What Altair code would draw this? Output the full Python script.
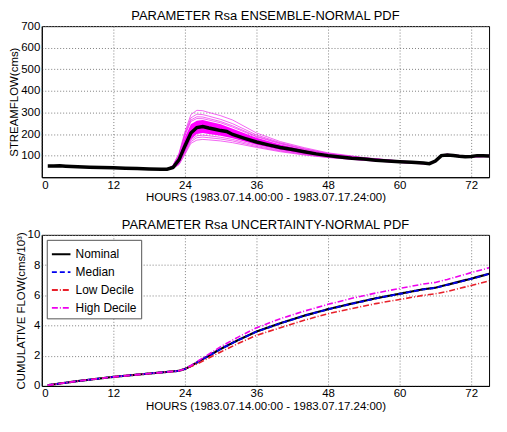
import altair as alt
import pandas as pd

FONT = "Liberation Sans"

# ---------------- Top panel data ----------------
hours_nom = [1, 2, 3, 4, 6, 8, 10, 12, 14, 16, 18, 20, 21, 22, 23, 24, 25, 26, 27, 28, 29, 30,
             31, 32, 34, 36, 38, 40, 42, 44, 46, 48, 50, 52, 54, 56, 58, 60, 62, 64, 65, 66,
             67, 68, 69, 70, 71, 72, 73, 74, 75]
flow_nom = [52, 52, 53, 51, 48, 46, 45, 44, 42, 40, 38, 37, 37, 45, 80, 145, 205, 230, 235, 228, 222, 216,
            212, 198, 180, 163, 150, 138, 128, 118, 108, 100, 94, 88, 84, 79, 75, 72, 69, 66, 63, 75,
            100, 103, 101, 97, 95, 96, 100, 99, 98]

env_hours = [21, 22, 23, 24, 25, 26, 27, 28, 30, 32, 36, 40, 44, 48, 54, 60, 65, 66, 67, 68, 70, 72, 75]
band_hi = [38, 52, 100, 185, 245, 262, 265, 258, 245, 225, 183, 152, 127, 107, 88, 74, 65, 78, 103, 106, 100, 98, 101]
band_lo = [36, 40, 62, 115, 175, 200, 205, 200, 192, 180, 150, 126, 108, 94, 80, 69, 61, 72, 98, 100, 95, 94, 96]

members = {
    "m1": [38, 55, 110, 210, 290, 310, 308, 300, 285, 265, 205, 165, 137, 113, 91, 76, 66, 79, 104, 107, 101, 99, 102],
    "m2": [38, 54, 106, 202, 275, 292, 290, 283, 268, 248, 196, 160, 133, 110, 90, 75, 66, 78, 104, 106, 100, 98, 101],
    "m3": [38, 53, 104, 197, 265, 280, 279, 272, 258, 238, 190, 157, 130, 109, 89, 75, 65, 78, 103, 106, 100, 98, 101],
    "m4": [38, 53, 102, 192, 258, 272, 271, 265, 252, 232, 187, 155, 129, 108, 89, 74, 65, 78, 103, 106, 100, 98, 101],
    "m5": [36, 41, 64, 118, 172, 192, 195, 192, 185, 175, 147, 124, 107, 93, 80, 69, 61, 72, 98, 100, 95, 94, 96],
    "m6": [36, 40, 60, 110, 165, 183, 186, 183, 177, 168, 142, 121, 105, 92, 79, 68, 61, 72, 98, 100, 95, 94, 96],
    "m7": [36, 40, 58, 105, 157, 172, 175, 173, 168, 160, 138, 118, 103, 91, 78, 68, 60, 71, 97, 99, 95, 93, 95],
}

# ---------------- Bottom panel data ----------------
cum_hours = [1, 6, 12, 18, 23, 24, 25, 26, 27, 28, 30, 33, 36, 40, 44, 48, 52, 56, 60, 64, 66, 68, 72, 75]
cum_nominal = [0.05, 0.32, 0.60, 0.82, 1.00, 1.12, 1.32, 1.55, 1.78, 2.00, 2.45, 3.05, 3.60, 4.15, 4.65, 5.08,
               5.45, 5.80, 6.10, 6.40, 6.50, 6.70, 7.10, 7.42]
cum_median = [0.05, 0.32, 0.60, 0.82, 1.00, 1.12, 1.31, 1.54, 1.77, 1.99, 2.44, 3.04, 3.59, 4.14, 4.64, 5.07,
              5.44, 5.79, 6.09, 6.39, 6.49, 6.69, 7.09, 7.41]
cum_low = [0.05, 0.32, 0.60, 0.82, 1.00, 1.12, 1.28, 1.45, 1.65, 1.85, 2.25, 2.82, 3.35, 3.85, 4.35, 4.78,
           5.12, 5.45, 5.72, 6.00, 6.10, 6.25, 6.65, 6.95]
cum_high = [0.05, 0.32, 0.60, 0.82, 1.00, 1.12, 1.35, 1.60, 1.85, 2.10, 2.60, 3.25, 3.85, 4.45, 4.95, 5.40,
            5.80, 6.15, 6.45, 6.75, 6.85, 7.05, 7.50, 7.82]

series_names = ["Nominal", "Median", "Low Decile", "High Decile"]
series_colors = ["#000000", "#0000ee", "#e8202a", "#ee00ee"]
series_dash = [[1, 0], [5, 3], [6, 2, 1, 2], [6, 2, 1, 2]]
series_width = [2.2, 1.8, 1.6, 1.6]

x_ticks = [0, 12, 24, 36, 48, 60, 72]
x_title = "HOURS (1983.07.14.00:00 - 1983.07.17.24:00)"

W, H = 450, 152

nom_df = pd.DataFrame({"hour": hours_nom, "flow": flow_nom})
band_df = pd.DataFrame({"hour": env_hours, "lo": band_lo, "hi": band_hi})
mem_rows = []
for k, vals in members.items():
    for h, v in zip(env_hours, vals):
        mem_rows.append({"member": k, "hour": h, "flow": v})
mem_df = pd.DataFrame(mem_rows)

gridopts = dict(grid=True, gridColor="#808080", gridDash=[1, 2], gridWidth=1, gridOpacity=1)

xaxis = alt.Axis(values=x_ticks, title=x_title, ticks=False, **gridopts)
xenc = alt.X("hour:Q", scale=alt.Scale(domain=[0, 75], nice=False), axis=xaxis)
yaxis_top = alt.Axis(values=[100, 200, 300, 400, 500, 600, 700], title="STREAMFLOW(cms)",
                     ticks=False, labelOverlap=False, **gridopts)
yscale_top = alt.Scale(domain=[0, 700], nice=False)
ytop = alt.Y("flow:Q", scale=yscale_top, axis=yaxis_top)

band = alt.Chart(band_df).mark_area(color="#ff00ff", opacity=1).encode(
    x=xenc, y=alt.Y("lo:Q", scale=yscale_top, axis=yaxis_top), y2="hi:Q")
mems = alt.Chart(mem_df).mark_line(color="#ee22ee", strokeWidth=0.7).encode(
    x=xenc, y=ytop, detail="member:N")
nom = alt.Chart(nom_df).mark_line(color="#000000", strokeWidth=3.5).encode(x=xenc, y=ytop)

top = alt.layer(band, mems, nom).properties(
    width=W, height=H,
    title=alt.TitleParams("PARAMETER Rsa ENSEMBLE-NORMAL PDF", fontSize=13, fontWeight="normal",
                          font=FONT, offset=-3))

cum_rows = []
for name, vals in zip(series_names, [cum_nominal, cum_median, cum_low, cum_high]):
    for h, v in zip(cum_hours, vals):
        cum_rows.append({"series": name, "hour": h, "cum": v})
cum_df = pd.DataFrame(cum_rows)

yb = alt.Y("cum:Q", scale=alt.Scale(domain=[0, 10], nice=False),
           axis=alt.Axis(values=[0, 2, 4, 6, 8, 10], title="CUMULATIVE FLOW(cms/10³)", ticks=False, **gridopts))

leg = dict(title=None, orient="top-left", offset=5, strokeColor="#555555", fillColor="white",
           padding=4, labelFontSize=12, labelFont=FONT, symbolType="stroke", symbolSize=350,
           symbolStrokeWidth=1.8, rowPadding=1)

cum_layers = []
for i, name in enumerate(series_names):
    cum_layers.append(
        alt.Chart(cum_df[cum_df.series == name]).mark_line(strokeWidth=series_width[i]).encode(
            x=xenc, y=yb,
            color=alt.Color("series:N", scale=alt.Scale(domain=series_names, range=series_colors),
                            legend=alt.Legend(**leg)),
            strokeDash=alt.StrokeDash("series:N", scale=alt.Scale(domain=series_names, range=series_dash),
                                      legend=alt.Legend(**leg)),
        )
    )

bottom = alt.layer(*cum_layers).properties(
    width=W, height=H,
    title=alt.TitleParams("PARAMETER Rsa UNCERTAINTY-NORMAL PDF", fontSize=13, fontWeight="normal",
                          font=FONT, offset=-3))

chart = alt.vconcat(top, bottom, spacing=14).resolve_legend(
    color="independent", strokeDash="independent"
).properties(
    padding={"left": 0, "top": 0, "right": 2, "bottom": 0}
).configure_view(stroke="#000000", strokeWidth=1).configure_axis(
    labelFont=FONT, titleFont=FONT, labelFontSize=11.5, titleFontSize=11.5, titleFontWeight="normal",
    labelColor="#000000", titleColor="#000000", domainColor="#000000", labelPadding=2, titlePadding=1
)

chart.save("out.html", embed_options={"renderer": "svg", "actions": False})
